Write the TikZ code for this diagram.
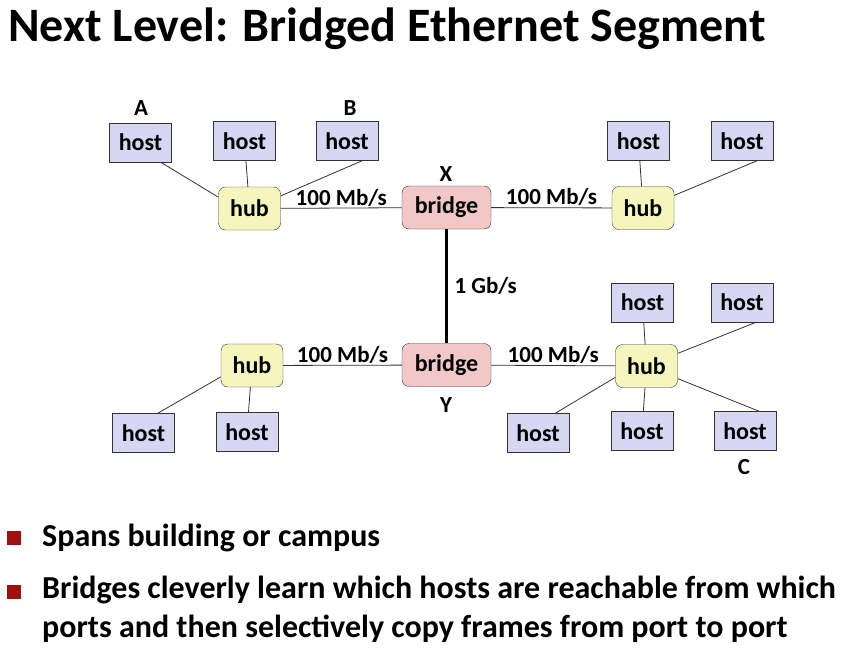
\documentclass[tikz,border=0pt]{standalone}
\usepackage{fontspec}
\setmainfont{Carlito}
\definecolor{hostfill}{RGB}{215,215,243}
\definecolor{hubfill}{RGB}{246,245,190}
\definecolor{bridgefill}{RGB}{241,199,199}
\definecolor{bulletred}{RGB}{160,16,16}
\tikzset{
  box/.style={draw=black!80, inner sep=0pt, font=\fontsize{24}{28}\selectfont\bfseries},
  host/.style={box, fill=hostfill, minimum width=62pt, minimum height=39pt},
  hub/.style={box, fill=hubfill, rounded corners=7pt, minimum width=62pt, minimum height=43pt},
  bridge/.style={box, fill=bridgefill, rounded corners=7pt, minimum width=89pt, minimum height=43pt},
  tag/.style={font=\fontsize{23}{26}\selectfont\bfseries},
  link/.style={draw=black!80, line width=0.8pt}
}
\begin{document}
\begin{tikzpicture}[x=1pt, y=-1pt]
\useasboundingbox (0,0) rectangle (849,651);

% Title
\node[anchor=base west, inner sep=0pt, font=\fontsize{48}{56}\selectfont\bfseries] (title) at (8,41) {Next Level: Bridged Ethernet Segment};

% Bridges
\node[bridge] (bX) at (446.5,207.5) {bridge};
\node[bridge] (bY) at (446.5,365) {bridge};

% Hubs
\node[hub] (hubTL) at (249.5,208.5) {hub};
\node[hub] (hubTR) at (643,208) {hub};
\node[hub] (hubBL) at (252,365.5) {hub};
\node[hub] (hubBR) at (646.5,366) {hub};

% Hosts
\node[host] (hA) at (140.5,142.5) {host};
\node[host] (hM) at (244.5,141) {host};
\node[host] (hB) at (347,141) {host};
\node[host] (hTR1) at (638.5,141) {host};
\node[host] (hTR2) at (742,141) {host};
\node[host] (hBL1) at (143.5,433) {host};
\node[host] (hBL2) at (247,432) {host};
\node[host] (hBR1) at (642.5,302.5) {host};
\node[host] (hBR2) at (742,302.5) {host};
\node[host] (hBR3) at (538,433) {host};
\node[host] (hBR4) at (642,431) {host};
\node[host] (hC) at (745,431) {host};

% Names
\node[tag] (lA) at (141,108) {A};
\node[tag] (lB) at (350,108) {B};
\node[tag] (lX) at (446,174) {X};
\node[tag] (lY) at (446,405) {Y};
\node[tag] (lC) at (744,467) {C};

% Links between hubs and bridges
\draw[link] (hubTL) -- node[tag, above=-2pt] {100 Mb/s} (bX);
\draw[link] (bX) -- node[tag, above=-2pt] {100 Mb/s} (hubTR);
\draw[link] (hubBL) -- node[tag, above=-2pt] {100 Mb/s} (bY);
\draw[link] (bY) -- node[tag, above=-2pt] {100 Mb/s} (hubBR);
\draw[line width=3.5pt] (bX) -- node[tag, right=3pt] {1 Gb/s} (bY);

% Host wires
\draw[link] ([xshift=-11pt]hA.south east) -- (hubTL.160);
\draw[link] (hM) -- (hubTL);
\draw[link] ([xshift=-16pt]hB.south east) -- (hubTL.22);
\draw[link] (hTR1) -- (hubTR);
\draw[link] ([xshift=-16pt]hTR2.south east) -- (hubTR.22);
\draw[link] ([xshift=-17pt]hBL1.north east) -- (hubBL.200);
\draw[link] (hBL2) -- (hubBL);
\draw[link] (hBR1) -- (hubBR);
\draw[link] ([xshift=-17pt]hBR2.south east) -- (hubBR.22);
\draw[link] ([xshift=-14pt]hBR3.north east) -- (hubBR.200);
\draw[link] (hBR4) -- (hubBR);
\draw[link] ([xshift=-17pt]hC.north east) -- (hubBR.-22);

% Bullets
\fill[bulletred] (7,531) rectangle (21,545);
\node[anchor=base west, inner sep=0pt, font=\fontsize{32}{39}\selectfont\bfseries] (pt1) at (42,546) {Spans building or campus};
\fill[bulletred] (7,585) rectangle (21,599);
\node[anchor=base west, inner sep=0pt, align=left, font=\fontsize{32}{38.5}\selectfont\bfseries] (pt2) at (42,637)
  {Bridges cleverly learn which hosts are reachable from which\\ports and then selectively copy frames from port to port};
\end{tikzpicture}
\end{document}
